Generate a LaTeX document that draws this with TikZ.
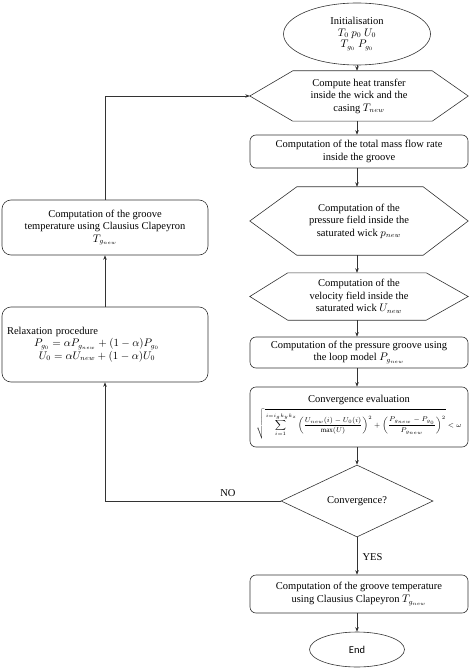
\documentclass[tikz,border=0pt]{standalone}
\usepackage{amsmath}
\usepackage{fontspec}
\setmainfont{Liberation Serif}
\newfontfamily\endfont{Carlito}
\usetikzlibrary{shapes.geometric,arrows.meta,calc}
\begin{document}
\begin{tikzpicture}[x=1pt,y=-1pt,
  every node/.style={font=\fontsize{10.5}{12.5}\selectfont, text=black, align=center},
  line/.style={draw=black!80, line width=0.6pt},
  arr/.style={line, -{Stealth[length=4.5pt,width=3.5pt]}},
  rbox/.style={line, rounded corners=6pt, minimum width=218pt, inner sep=1pt},
  hexa/.style={minimum width=218pt, inner sep=1pt},
  lbox/.style={line, rounded corners=9pt, minimum width=206pt, inner sep=1pt},
]
\useasboundingbox (0,0) rectangle (475,668);

\node[line, ellipse, minimum width=147pt, minimum height=62pt, inner sep=0pt] (init) at (357,34)
  {Initialisation\\[-1pt] $T_0\ p_0\ U_0$\\[-1pt] $T_{g_0}\ P_{g_0}$};

\node[hexa, minimum height=50pt] (h1) at (359,96)
  {Compute heat transfer\\ inside the wick and the\\ casing $T_{new}$};
\draw[line] (h1.west) -- ([xshift=43pt]h1.north west) -- ([xshift=-36pt]h1.north east) -- (h1.east)
  -- ([xshift=-36pt]h1.south east) -- ([xshift=43pt]h1.south west) -- cycle;

\node[rbox, minimum height=33pt] (b1) at (359,151.5)
  {Computation of the total mass flow rate\\ inside the groove};

\node[hexa, minimum height=68pt] (h2) at (359,221)
  {Computation of the\\ pressure field inside the\\ saturated wick $p_{new}$};
\draw[line] (h2.west) -- ([xshift=47pt]h2.north west) -- ([xshift=-45pt]h2.north east) -- (h2.east)
  -- ([xshift=-45pt]h2.south east) -- ([xshift=47pt]h2.south west) -- cycle;

\node[hexa, minimum height=47pt] (h3) at (359,296.5)
  {Computation of the\\ velocity field inside the\\ saturated wick $U_{new}$};
\draw[line] (h3.west) -- ([xshift=38pt]h3.north west) -- ([xshift=-42pt]h3.north east) -- (h3.east)
  -- ([xshift=-42pt]h3.south east) -- ([xshift=38pt]h3.south west) -- cycle;

\node[rbox, minimum height=31pt] (b2) at (359,352.5)
  {Computation of the pressure groove using\\ the loop model $P_{g_{new}}$};

\node[rbox, minimum height=60pt] (b3) at (359,417)
  {Convergence evaluation\\[3pt]
   {\scriptsize$\displaystyle\sqrt{\sum_{i=1}^{\,i=i_gk_yk_z}\left(\frac{U_{new}(i)-U_0(i)}{\max(U)}\right)^{2}+\left(\frac{P_{g_{new}}-P_{g_0}}{P_{g_{new}}}\right)^{2}}<\omega$}};

\node[line, diamond, minimum width=152pt, minimum height=72pt, aspect=2.1, inner sep=0pt] (conv) at (357,501)
  {Convergence?};

\node[rbox, minimum height=38pt] (b4) at (359,594)
  {Computation of the groove temperature\\ using Clausius Clapeyron $T_{g_{new}}$};

\node[line, ellipse, minimum width=95pt, minimum height=35pt, inner sep=0pt] (fin) at (357,649.5)
  {\endfont End};

\node[lbox, minimum height=55pt] (la) at (105,227.5)
  {Computation of the groove\\ temperature using Clausius Clapeyron\\ $T_{g_{new}}$};

\node[lbox, minimum height=75pt, text width=196pt, align=left, inner sep=5pt] (lb) at (105,344.5)
  {Relaxation procedure\\
   \hspace*{27pt}$P_{g_0}=\alpha P_{g_{new}}+(1-\alpha)P_{g_0}$\\
   \hspace*{32pt}$U_0=\alpha U_{new}+(1-\alpha)U_0$};

\draw[arr] (init.south) -- (init.south |- h1.north);
\draw[arr] (init.south |- h1.south) -- (init.south |- b1.north);
\draw[arr] (init.south |- b1.south) -- (init.south |- h2.north);
\draw[arr] (init.south |- h2.south) -- (init.south |- h3.north);
\draw[arr] (init.south |- h3.south) -- (init.south |- b2.north);
\draw[arr] (init.south |- b2.south) -- (init.south |- b3.north);
\draw[arr] (init.south |- b3.south) -- (conv.north);
\draw[arr] (conv.south) -- node[right, xshift=2pt, yshift=-1pt] {YES} (conv.south |- b4.north);
\draw[arr] (conv.south |- b4.south) -- (fin.north);

\draw[arr] (conv.west) -- node[above, pos=0.3, yshift=1pt] {NO} (conv.west -| lb.south) -- (lb.south);
\draw[arr] (lb.north) -- (la.south);
\draw[arr] (la.north) |- (h1.west);
\end{tikzpicture}
\end{document}
